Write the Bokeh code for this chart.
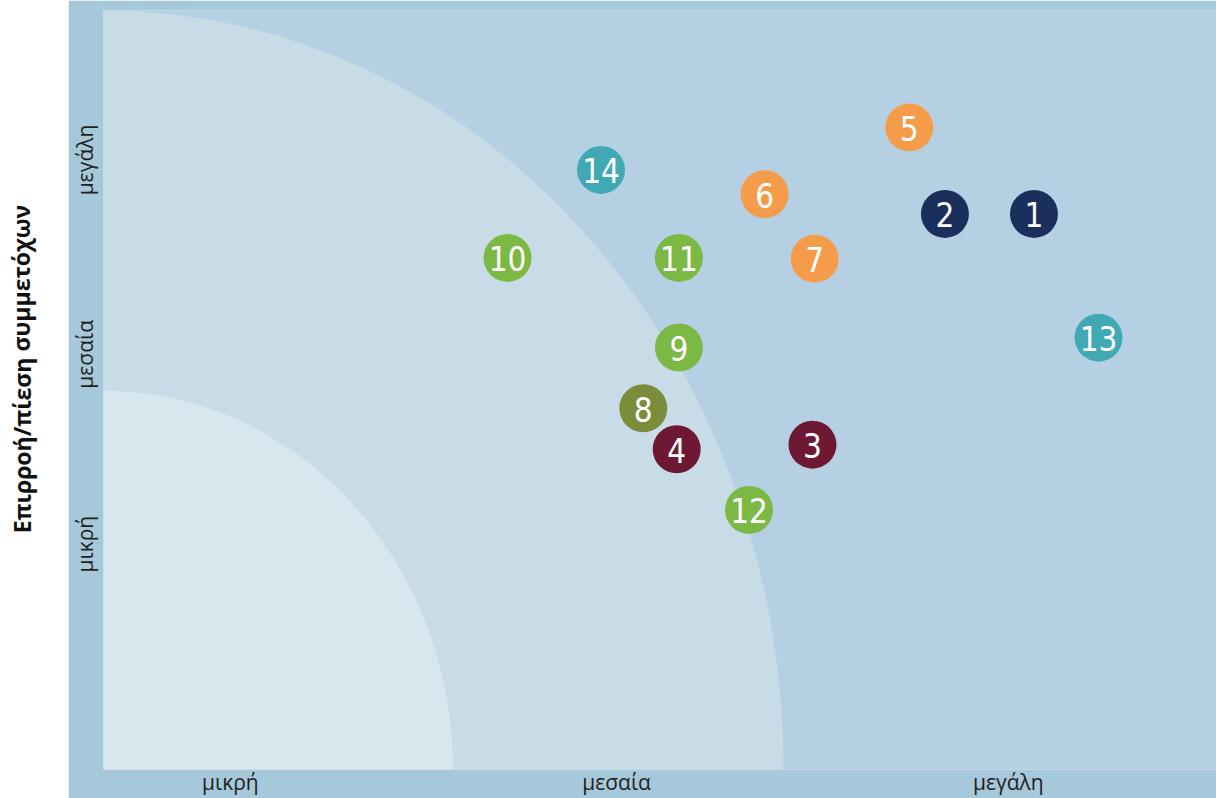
from bokeh.plotting import figure
from bokeh.models import ColumnDataSource, FixedTicker, Label
from bokeh.layouts import row
from bokeh.core.properties import value
from bokeh.embed import file_html
from bokeh.resources import INLINE

# ---- data ----
ids = ["1", "2", "3", "4", "5", "6", "7", "8", "9", "10", "11", "12", "13", "14"]
x_vals = [83.6, 75.6, 63.7, 51.5, 72.4, 59.4, 63.9, 48.5, 51.7, 36.3, 51.7, 58.0, 89.4, 44.7]
y_vals = [73.2, 73.2, 42.8, 42.2, 84.6, 75.8, 67.3, 47.6, 55.6, 67.4, 67.4, 34.2, 56.9, 79.0]
groups = ["navy", "navy", "maroon", "maroon", "orange", "orange", "orange", "olive",
          "green", "green", "green", "green", "teal", "teal"]
group_colors = {"navy": "#1b2f5c", "maroon": "#6e1934", "orange": "#f59c4a",
                "olive": "#7b8c3a", "green": "#7cb944", "teal": "#41a9b3"}

x_tick_pos = [11.4, 46.1, 81.3]
x_tick_labels = ["μικρή", "μεσαία", "μεγάλη"]
y_tick_pos = [29.7, 54.7, 80.3]
y_tick_labels = ["μικρή", "μεσαία", "μεγάλη"]
y_title = "Επιρροή/πίεση συμμετόχων"

zone_rx = [61.1, 31.4]
zone_ry = [100.0, 49.9]
zone_colors = ["#c7dce7", "#d8e6ee"]

BAND = "#a6c8db"
OUTER = "#b5d0e2"

# ---- title strip ----
tf = figure(width=68, height=798, toolbar_location=None, output_backend="svg",
            x_range=(0, 68), y_range=(0, 798), min_border=0)
tf.axis.visible = False
tf.grid.visible = False
tf.outline_line_color = None
tf.background_fill_color = "white"
tf.border_fill_color = "white"
tf.add_layout(Label(x=21, y=798 - 377, text=y_title,
                    angle=1.5708, text_align="center", text_baseline="middle",
                    text_font="Open Sans", text_font_style="bold",
                    text_font_size="23px", text_color="#111111"))

# ---- main figure ----
p = figure(width=1148, height=798, toolbar_location=None, output_backend="svg",
           x_range=(0, 100), y_range=(0, 100),
           min_border_left=35, min_border_bottom=27, min_border_top=10, min_border_right=0)
p.background_fill_color = OUTER
p.border_fill_color = BAND
p.outline_line_color = None
p.grid.visible = False

for rx, ry, c in zip(zone_rx, zone_ry, zone_colors):
    p.ellipse(x=[0], y=[0], width=[2 * rx], height=[2 * ry], fill_color=c, line_color=None)

src = ColumnDataSource(dict(x=x_vals, y=y_vals, label=ids,
                            color=[group_colors[g] for g in groups]))
p.scatter("x", "y", source=src, size=48, fill_color="color", line_color=None)
p.text("x", "y", text="label", source=src, text_align="center", text_baseline="middle",
       text_color="white", text_font=value("DejaVu Sans Condensed, Roboto, sans-serif"),
       text_font_size="33px", y_offset=1)

for ax in (p.xaxis[0], p.yaxis[0]):
    ax.axis_line_color = None
    ax.major_tick_line_color = None
    ax.minor_tick_line_color = None
    ax.major_tick_out = 0
    ax.major_tick_in = 0
    ax.minor_tick_out = 0
    ax.minor_tick_in = 0
    ax.major_label_text_font = "Open Sans"
    ax.major_label_text_font_size = "21px"
    ax.major_label_text_color = "#231f20"

p.xaxis[0].ticker = FixedTicker(ticks=x_tick_pos)
p.xaxis[0].major_label_overrides = {t: l for t, l in zip(x_tick_pos, x_tick_labels)}
p.xaxis[0].major_label_standoff = -2
p.yaxis[0].ticker = FixedTicker(ticks=y_tick_pos)
p.yaxis[0].major_label_overrides = {t: l for t, l in zip(y_tick_pos, y_tick_labels)}
p.yaxis[0].major_label_orientation = "vertical"
p.yaxis[0].major_label_standoff = 4

layout = row(tf, p, spacing=0)
open("out.html", "w").write(file_html(layout, INLINE))
